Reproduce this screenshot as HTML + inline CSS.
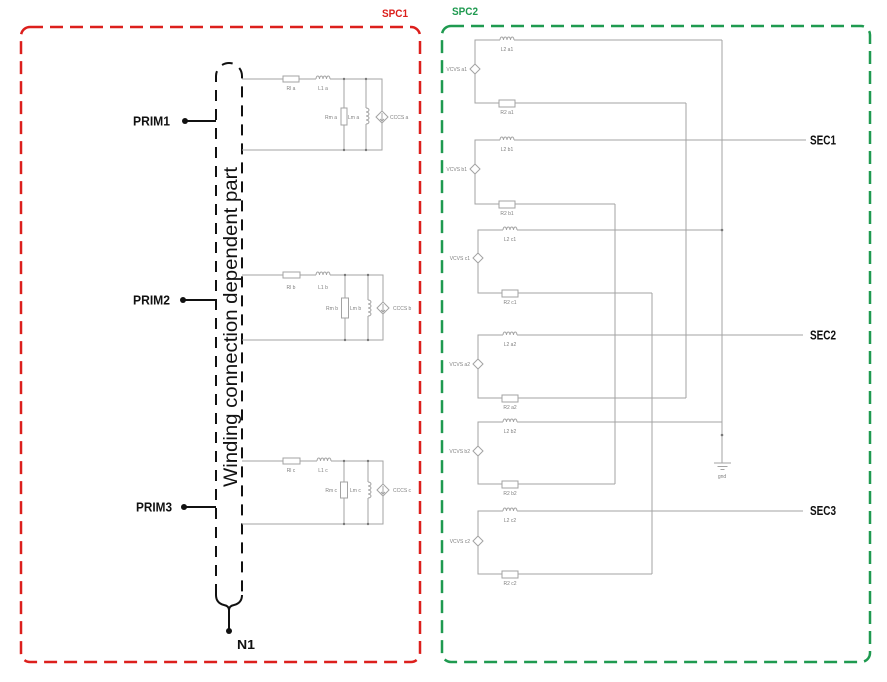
<!DOCTYPE html>
<html><head><meta charset="utf-8"><style>
html,body{margin:0;padding:0;background:#fff;}
svg{display:block;}
.w{fill:none;stroke:#a3a3a3;stroke-width:1;}
.c{fill:#fff;stroke:#a3a3a3;stroke-width:1;}
.t{font-family:"Liberation Sans",sans-serif;font-size:5px;fill:#808080;}
.b{font-family:"Liberation Sans",sans-serif;font-weight:bold;fill:#111;}
.d{fill:#777;}
</style></head><body>
<svg width="887" height="682" viewBox="0 0 887 682" xmlns="http://www.w3.org/2000/svg">
<rect width="887" height="682" fill="#fff"/>
<!-- boxes -->
<rect x="21" y="27" width="399" height="635" rx="9" fill="none" stroke="#dc1f1c" stroke-width="2.5" stroke-dasharray="13 7"/>
<rect x="442" y="26" width="428" height="636" rx="9" fill="none" stroke="#1f9a50" stroke-width="2.5" stroke-dasharray="13 7"/>
<text x="382" y="17" class="b" style="font-size:11px;fill:#dc1f1c" textLength="26" lengthAdjust="spacingAndGlyphs">SPC1</text>
<text x="452" y="15" class="b" style="font-size:11px;fill:#1f9a50" textLength="26" lengthAdjust="spacingAndGlyphs">SPC2</text>

<!-- winding oval -->
<path d="M216,595 V76 A13,13 0 0 1 242,76 V595" fill="none" stroke="#111" stroke-width="2" stroke-dasharray="11 8"/>
<path d="M216,595 Q216,603 224,605 Q229,606 229,610 Q229,606 234,605 Q242,603 242,595" fill="none" stroke="#111" stroke-width="2"/>
<line x1="229" y1="610" x2="229" y2="631" stroke="#111" stroke-width="2"/>
<circle cx="229" cy="631" r="3" fill="#111"/>
<text x="237" y="649" class="b" style="font-size:13px" textLength="18" lengthAdjust="spacingAndGlyphs">N1</text>
<text transform="translate(237,487) rotate(-90)" style="font-family:'Liberation Sans',sans-serif;font-size:19px;fill:#111" textLength="320" lengthAdjust="spacingAndGlyphs">Winding connection dependent part</text>

<!-- PRIM -->
<line x1="185" y1="121" x2="216" y2="121" stroke="#111" stroke-width="2"/><circle cx="185" cy="121" r="3" fill="#111"/>
<text x="133" y="125.5" class="b" style="font-size:12.5px" textLength="37" lengthAdjust="spacingAndGlyphs">PRIM1</text>
<line x1="183" y1="300" x2="216" y2="300" stroke="#111" stroke-width="2"/><circle cx="183" cy="300" r="3" fill="#111"/>
<text x="133" y="304.5" class="b" style="font-size:12.5px" textLength="37" lengthAdjust="spacingAndGlyphs">PRIM2</text>
<line x1="184" y1="507" x2="216" y2="507" stroke="#111" stroke-width="2"/><circle cx="184" cy="507" r="3" fill="#111"/>
<text x="136" y="511.5" class="b" style="font-size:12.5px" textLength="36" lengthAdjust="spacingAndGlyphs">PRIM3</text>

<!-- SPC1 circuit a -->
<g>
<path class="w" d="M242,79 H283 M299,79 H316 M330,79 H382 V111 M382,123 V150 H242"/>
<rect class="c" x="283" y="76" width="16" height="6"/>
<path class="w" d="M316,79 a1.75,3 0 0 1 3.5,0 a1.75,3 0 0 1 3.5,0 a1.75,3 0 0 1 3.5,0 a1.75,3 0 0 1 3.5,0"/>
<path class="w" d="M344,79 V108 M344,125 V150 M366,79 V108 M366,124 V150"/>
<rect class="c" x="341" y="108" width="6" height="17"/>
<path class="w" d="M366,108 a3,2 0 0 1 0,4 a3,2 0 0 1 0,4 a3,2 0 0 1 0,4 a3,2 0 0 1 0,4"/>
<polygon class="c" points="382,111 388,117 382,123 376,117"/>
<path class="w" d="M382,113 V121 M380,119 L382,121 L384,119"/>
<circle class="d" cx="344" cy="79" r="1.2"/><circle class="d" cx="366" cy="79" r="1.2"/><circle class="d" cx="344" cy="150" r="1.2"/><circle class="d" cx="366" cy="150" r="1.2"/>
<text class="t" x="291" y="90" text-anchor="middle">Rl a</text>
<text class="t" x="323" y="90" text-anchor="middle">L1 a</text>
<text class="t" x="337" y="119" text-anchor="end">Rm a</text>
<text class="t" x="348" y="119">Lm a</text>
<text class="t" x="390" y="119">CCCS a</text>
</g>
<!-- SPC1 circuit b -->
<g>
<path class="w" d="M242,275 H283 M300,275 H316 M330,275 H383 V302 M383,314 V340 H242"/>
<rect class="c" x="283" y="272" width="17" height="6"/>
<path class="w" d="M316,275 a1.75,3 0 0 1 3.5,0 a1.75,3 0 0 1 3.5,0 a1.75,3 0 0 1 3.5,0 a1.75,3 0 0 1 3.5,0"/>
<path class="w" d="M345,275 V298 M345,318 V340 M368,275 V300 M368,316 V340"/>
<rect class="c" x="341.5" y="298" width="7" height="20"/>
<path class="w" d="M368,300 a3,2 0 0 1 0,4 a3,2 0 0 1 0,4 a3,2 0 0 1 0,4 a3,2 0 0 1 0,4"/>
<polygon class="c" points="383,302 389,308 383,314 377,308"/>
<path class="w" d="M383,304 V312 M381,310 L383,312 L385,310"/>
<circle class="d" cx="345" cy="275" r="1.2"/><circle class="d" cx="368" cy="275" r="1.2"/><circle class="d" cx="345" cy="340" r="1.2"/><circle class="d" cx="368" cy="340" r="1.2"/>
<text class="t" x="291" y="289" text-anchor="middle">Rl b</text>
<text class="t" x="323" y="289" text-anchor="middle">L1 b</text>
<text class="t" x="338" y="310" text-anchor="end">Rm b</text>
<text class="t" x="350" y="310">Lm b</text>
<text class="t" x="393" y="310">CCCS b</text>
</g>
<!-- SPC1 circuit c -->
<g>
<path class="w" d="M242,461 H283 M300,461 H317 M331,461 H383 V484 M383,496 V524 H242"/>
<rect class="c" x="283" y="458" width="17" height="6"/>
<path class="w" d="M317,461 a1.75,3 0 0 1 3.5,0 a1.75,3 0 0 1 3.5,0 a1.75,3 0 0 1 3.5,0 a1.75,3 0 0 1 3.5,0"/>
<path class="w" d="M344,461 V482 M344,498 V524 M368,461 V482 M368,498 V524"/>
<rect class="c" x="340.5" y="482" width="7" height="16"/>
<path class="w" d="M368,482 a3,2 0 0 1 0,4 a3,2 0 0 1 0,4 a3,2 0 0 1 0,4 a3,2 0 0 1 0,4"/>
<polygon class="c" points="383,484 389,490 383,496 377,490"/>
<path class="w" d="M383,486 V494 M381,492 L383,494 L385,492"/>
<circle class="d" cx="344" cy="461" r="1.2"/><circle class="d" cx="368" cy="461" r="1.2"/><circle class="d" cx="344" cy="524" r="1.2"/><circle class="d" cx="368" cy="524" r="1.2"/>
<text class="t" x="291" y="472" text-anchor="middle">Rl c</text>
<text class="t" x="323" y="472" text-anchor="middle">L1 c</text>
<text class="t" x="337" y="492" text-anchor="end">Rm c</text>
<text class="t" x="350" y="492">Lm c</text>
<text class="t" x="393" y="492">CCCS c</text>
</g>

<!-- SPC2 blocks -->
<!-- a1 -->
<path class="w" d="M475,64 V40 H500 M514,40 H722 M475,74 V103 H499 M515,103 H686"/>
<path class="w" d="M500,40 a1.75,3 0 0 1 3.5,0 a1.75,3 0 0 1 3.5,0 a1.75,3 0 0 1 3.5,0 a1.75,3 0 0 1 3.5,0"/>
<rect class="c" x="499" y="100" width="16" height="7"/>
<polygon class="c" points="475,64 480,69 475,74 470,69"/>
<text class="t" x="507" y="51" text-anchor="middle">L2 a1</text>
<text class="t" x="507" y="114" text-anchor="middle">R2 a1</text>
<text class="t" x="467" y="71" text-anchor="end">VCVS a1</text>
<!-- b1 -->
<path class="w" d="M475,164 V140 H500 M514,140 H806 M475,174 V204 H499 M515,204 H615"/>
<path class="w" d="M500,140 a1.75,3 0 0 1 3.5,0 a1.75,3 0 0 1 3.5,0 a1.75,3 0 0 1 3.5,0 a1.75,3 0 0 1 3.5,0"/>
<rect class="c" x="499" y="201" width="16" height="7"/>
<polygon class="c" points="475,164 480,169 475,174 470,169"/>
<text class="t" x="507" y="151" text-anchor="middle">L2 b1</text>
<text class="t" x="507" y="215" text-anchor="middle">R2 b1</text>
<text class="t" x="467" y="171" text-anchor="end">VCVS b1</text>
<!-- c1 -->
<path class="w" d="M478,253 V230 H503 M517,230 H722 M478,263 V293 H502 M518,293 H652"/>
<path class="w" d="M503,230 a1.75,3 0 0 1 3.5,0 a1.75,3 0 0 1 3.5,0 a1.75,3 0 0 1 3.5,0 a1.75,3 0 0 1 3.5,0"/>
<rect class="c" x="502" y="290" width="16" height="7"/>
<polygon class="c" points="478,253 483,258 478,263 473,258"/>
<text class="t" x="510" y="241" text-anchor="middle">L2 c1</text>
<text class="t" x="510" y="304" text-anchor="middle">R2 c1</text>
<text class="t" x="470" y="260" text-anchor="end">VCVS c1</text>
<!-- a2 -->
<path class="w" d="M478,359 V335 H503 M517,335 H803 M478,369 V398 H502 M518,398 H686"/>
<path class="w" d="M503,335 a1.75,3 0 0 1 3.5,0 a1.75,3 0 0 1 3.5,0 a1.75,3 0 0 1 3.5,0 a1.75,3 0 0 1 3.5,0"/>
<rect class="c" x="502" y="395" width="16" height="7"/>
<polygon class="c" points="478,359 483,364 478,369 473,364"/>
<text class="t" x="510" y="346" text-anchor="middle">L2 a2</text>
<text class="t" x="510" y="409" text-anchor="middle">R2 a2</text>
<text class="t" x="470" y="366" text-anchor="end">VCVS a2</text>
<!-- b2 -->
<path class="w" d="M478,446 V422 H503 M517,422 H722 M478,456 V484 H502 M518,484 H615"/>
<path class="w" d="M503,422 a1.75,3 0 0 1 3.5,0 a1.75,3 0 0 1 3.5,0 a1.75,3 0 0 1 3.5,0 a1.75,3 0 0 1 3.5,0"/>
<rect class="c" x="502" y="481" width="16" height="7"/>
<polygon class="c" points="478,446 483,451 478,456 473,451"/>
<text class="t" x="510" y="433" text-anchor="middle">L2 b2</text>
<text class="t" x="510" y="495" text-anchor="middle">R2 b2</text>
<text class="t" x="470" y="453" text-anchor="end">VCVS b2</text>
<!-- c2 -->
<path class="w" d="M478,536 V511 H503 M517,511 H803 M478,546 V574 H502 M518,574 H652"/>
<path class="w" d="M503,511 a1.75,3 0 0 1 3.5,0 a1.75,3 0 0 1 3.5,0 a1.75,3 0 0 1 3.5,0 a1.75,3 0 0 1 3.5,0"/>
<rect class="c" x="502" y="571" width="16" height="7"/>
<polygon class="c" points="478,536 483,541 478,546 473,541"/>
<text class="t" x="510" y="522" text-anchor="middle">L2 c2</text>
<text class="t" x="510" y="585" text-anchor="middle">R2 c2</text>
<text class="t" x="470" y="543" text-anchor="end">VCVS c2</text>

<!-- verticals -->
<path class="w" d="M722,40 V463 M686,103 V398 M615,204 V484 M652,293 V574"/>
<circle class="d" cx="722" cy="230" r="1.3"/>
<circle class="d" cx="722" cy="435" r="1.3"/>
<path class="w" d="M714,463 H731 M717.5,466.5 H727.5 M720.5,469.5 H724.5"/>
<text class="t" x="722" y="478" text-anchor="middle">gnd</text>

<!-- SEC -->
<text x="810" y="144.5" class="b" style="font-size:12.5px" textLength="26" lengthAdjust="spacingAndGlyphs">SEC1</text>
<text x="810" y="339.5" class="b" style="font-size:12.5px" textLength="26" lengthAdjust="spacingAndGlyphs">SEC2</text>
<text x="810" y="515" class="b" style="font-size:12.5px" textLength="26" lengthAdjust="spacingAndGlyphs">SEC3</text>
</svg>
</body></html>
